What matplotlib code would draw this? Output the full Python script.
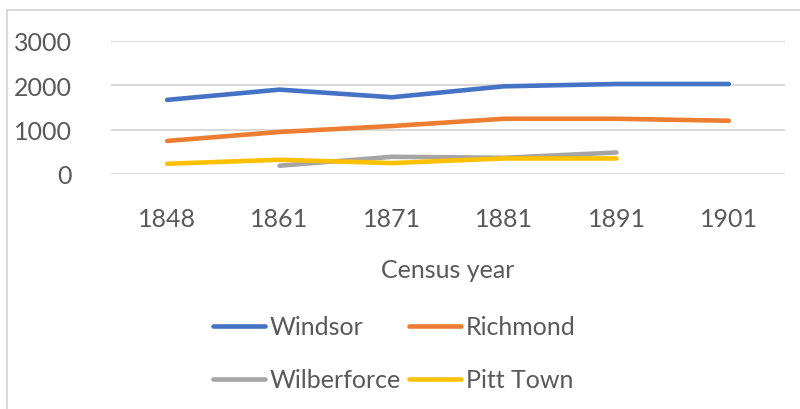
import matplotlib.pyplot as plt
import numpy as np
from matplotlib.patches import Rectangle

plt.rcParams['font.family'] = ['Lato', 'DejaVu Sans']

years = ['1848', '1861', '1871', '1881', '1891', '1901']
windsor = [1672, 1903, 1731, 1978, 2030, 2030]
richmond = [746, 948, 1082, 1246, 1246, 1201]
wilberforce = [np.nan, 187, 388, 366, 485, np.nan]
pitt_town = [231, 321, 246, 351, 351, np.nan]

series = [
    ('Windsor', windsor, '#4472C4'),
    ('Richmond', richmond, '#ED7D31'),
    ('Wilberforce', wilberforce, '#A5A5A5'),
    ('Pitt Town', pitt_town, '#FFC000'),
]

txt = '#595959'
grid = '#D9D9D9'

fig = plt.figure(figsize=(8, 4.1), dpi=100)
ax = fig.add_axes([111/800, 1 - 175/410, 674/800, 133/410])

x = np.arange(len(years))
lines = []
for name, vals, col in series:
    l, = ax.plot(x, vals, color=col, lw=3.3, solid_capstyle='round', label=name)
    lines.append(l)

ax.set_xlim(-0.5, len(years) - 0.5)
ax.set_ylim(0, 3000)
ax.set_yticks([0, 1000, 2000, 3000])
ax.set_xticks(x)
ax.set_xticklabels(years)
ax.yaxis.grid(True, color=grid, lw=1.5)
ax.set_axisbelow(True)
for s in ax.spines.values():
    s.set_visible(False)
ax.tick_params(length=0, labelsize=18, colors=txt)
ax.tick_params(axis='y', pad=28)
ax.tick_params(axis='x', pad=24)
ax.set_xlabel('Census year', fontsize=18, color=txt, labelpad=20)

fig.patches.append(Rectangle((7/800, -0.1), 1.2, 1.1 - 10.5/410,
                             transform=fig.transFigure, fill=False,
                             ec=grid, lw=1.5))

# legend is filled row by row in the reference
order = [0, 2, 1, 3]
fig.legend([lines[i] for i in order], [series[i][0] for i in order],
           loc='upper left', bbox_to_anchor=(200/800, 1 - 304/410), ncol=2,
           frameon=False, fontsize=18, labelcolor=txt,
           handlelength=2.1, handletextpad=0.2, columnspacing=0.3,
           labelspacing=1.2, borderpad=0)

fig.savefig('out.png', dpi=100)
